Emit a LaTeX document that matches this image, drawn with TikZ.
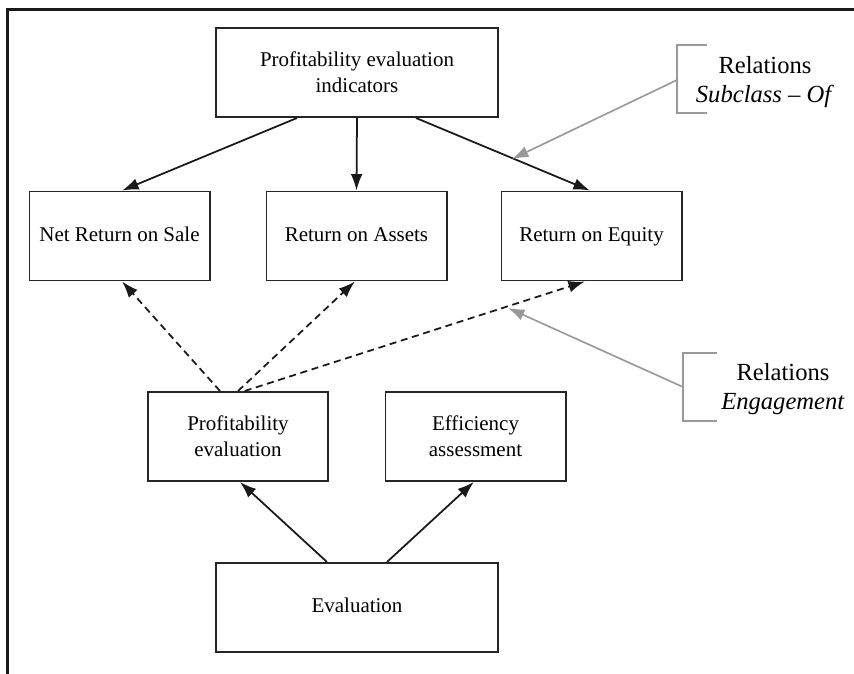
\documentclass[tikz,border=0pt]{standalone}
\usepackage{fontspec}
\setmainfont{Liberation Serif}
\usetikzlibrary{arrows.meta}

\begin{document}
\begin{tikzpicture}[x=0.03cm, y=-0.03cm,
    box/.style={draw=black!85, line width=1.7pt, minimum width=5.4cm, minimum height=2.67cm,
      inner sep=0pt, align=center, font=\fontsize{17.9}{22}\selectfont},
    widebox/.style={box, minimum width=8.46cm},
    link/.style={draw=black!90, line width=1.5pt, -{Latex[length=14pt,width=10pt]}},
    uses/.style={link, dash pattern=on 6pt off 4pt},
    note/.style={draw=gray!80, line width=1.4pt, -{Latex[length=14pt,width=10pt]}},
    relnote/.style={align=center, font=\fontsize{21}{24.6}\selectfont}]
        \useasboundingbox (0,0) rectangle (854,674);
        % frame
        \draw[black!90, line width=2.2pt] (7.5,674) -- (7.5,9.5) -- (854,9.5);
        % concepts
        \node[widebox] (ind) at (357,72.5) {Profitability evaluation\\indicators};
        \node[box] (nrs) at (119.5,236) {Net Return on Sale\strut};
        \node[box] (roa) at (356.5,236) {Return on Assets\strut};
        \node[box] (roe) at (591.5,236) {Return on Equity\strut};
        \node[box] (pev) at (238,436.5) {Profitability\\evaluation};
        \node[box] (eas) at (475.5,436.5) {Efficiency\\assessment};
        \node[widebox] (evl) at (357,607.5) {Evaluation\strut};
        % subclass-of
        \draw[link] ([xshift=-1.8cm]ind.south) -- ([xshift=0.08cm]nrs.north);
        \draw[link] (ind.south) -- (roa.north);
        \draw[link] ([xshift=1.77cm]ind.south) -- ([xshift=-0.05cm]roe.north);
        \draw[link] ([xshift=-0.9cm]evl.north) -- ([xshift=0.06cm]pev.south);
        \draw[link] ([xshift=0.9cm]evl.north) -- ([xshift=-0.05cm]eas.south);
        % engagement
        \draw[uses] ([xshift=-0.54cm]pev.north) -- ([xshift=0.08cm]nrs.south);
        \draw[uses] (pev.north) -- ([xshift=-0.05cm]roa.south);
        \draw[uses] ([xshift=0.2cm]pev.north) -- ([xshift=-0.2cm]roe.south);
        % relation notes
        \node[relnote] (rsub) at (765,82) {Relations\\\textit{Subclass -- Of}};
        \node[relnote] (reng) at (783,389) {Relations\\\textit{Engagement}};
        \draw[gray!80, line width=1.3pt] (707,45) -- (677,45) -- (677,113) -- (707,113);
        \draw[gray!80, line width=1.3pt] (717,353) -- (683,353) -- (683,421) -- (717,421);
        \coordinate (bsub) at (677,80);
        \coordinate (psub) at (512,159);
        \coordinate (beng) at (683,387);
        \coordinate (peng) at (508,308);
        \draw[note] (bsub) -- (psub);
        \draw[note] (beng) -- (peng);
      \end{tikzpicture}
\end{document}
